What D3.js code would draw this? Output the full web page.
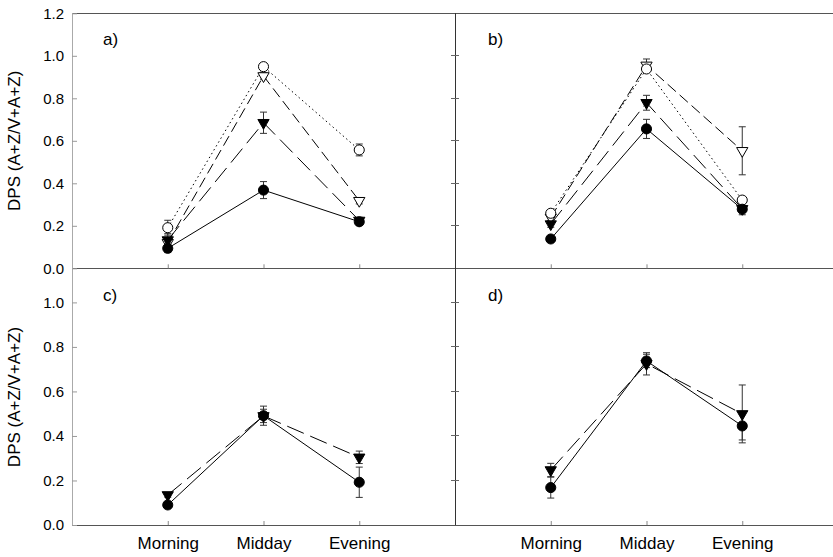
<!DOCTYPE html>
<html>
<head>
<meta charset="utf-8">
<script src="https://cdn.jsdelivr.net/npm/d3@7"></script>
<style>
  body { margin: 0; background: #fff; }
  svg text { font-family: Arial, "Liberation Sans", sans-serif; fill: #000; }
</style>
</head>
<body>
<svg id="chart" width="833" height="557"></svg>
<script>
// categories and ticks
var periods = ["Morning", "Midday", "Evening"];
var yTicksTop = [0, 0.2, 0.4, 0.6, 0.8, 1.0, 1.2];
var yTicksBottom = [0, 0.2, 0.4, 0.6, 0.8, 1.0];
var yTitle = "DPS (A+Z/V+A+Z)";

// panel a
var aFilledCircle = [0.094, 0.368, 0.219];
var aFilledCircleErr = [0.02, 0.04, 0.015];
var aFilledTri = [0.133, 0.685, 0.225];
var aFilledTriErr = [0.03, 0.05, 0.015];
var aOpenTri = [0.12, 0.905, 0.318];
var aOpenTriErr = [0.02, 0.015, 0.015];
var aOpenCircle = [0.191, 0.949, 0.557];
var aOpenCircleErr = [0.035, 0.01, 0.028];

// panel b
var bFilledCircle = [0.138, 0.656, 0.278];
var bFilledCircleErr = [0.01, 0.045, 0.026];
var bFilledTri = [0.208, 0.779, 0.28];
var bFilledTriErr = [0.015, 0.035, 0.015];
var bOpenTri = [0.24, 0.955, 0.553];
var bOpenTriErr = [0.015, 0.03, 0.113];
var bOpenCircle = [0.259, 0.938, 0.321];
var bOpenCircleErr = [0.01, 0.015, 0.015];

// panel c
var cFilledCircle = [0.09, 0.491, 0.192];
var cFilledCircleErr = [0.01, 0.043, 0.068];
var cFilledTri = [0.135, 0.49, 0.304];
var cFilledTriErr = [0.01, 0.03, 0.028];

// panel d
var dFilledCircle = [0.168, 0.737, 0.445];
var dFilledCircleErr = [0.047, 0.03, 0.063];
var dFilledTri = [0.247, 0.724, 0.499];
var dFilledTriErr = [0.03, 0.05, 0.13];

var svg = d3.select("#chart");

var styles = {
	filledCircle: { dash: null, shape: "circle", fill: "#000" },
	filledTri: { dash: "18,7", shape: "tri", fill: "#000" },
	openTri: { dash: "11,5", shape: "tri", fill: "#fff" },
	openCircle: { dash: "1.5,3", shape: "circle", fill: "#fff" }
};

var leftX = d3.scaleLinear().domain([0, 4]).range([72, 455]);
var rightX = d3.scaleLinear().domain([0, 4]).range([455, 838]);
var topY = d3.scaleLinear().domain([0, 1.2]).range([268.3, 13.3]);
var bottomY = d3.scaleLinear().domain([0, 1.15]).range([525, 269]);

var panels = [
	{ label: "a)", x: leftX, y: topY, series: [
		["openCircle", aOpenCircle, aOpenCircleErr],
		["openTri", aOpenTri, aOpenTriErr],
		["filledTri", aFilledTri, aFilledTriErr],
		["filledCircle", aFilledCircle, aFilledCircleErr]] },
	{ label: "b)", x: rightX, y: topY, series: [
		["openTri", bOpenTri, bOpenTriErr],
		["openCircle", bOpenCircle, bOpenCircleErr],
		["filledTri", bFilledTri, bFilledTriErr],
		["filledCircle", bFilledCircle, bFilledCircleErr]] },
	{ label: "c)", x: leftX, y: bottomY, series: [
		["filledTri", cFilledTri, cFilledTriErr],
		["filledCircle", cFilledCircle, cFilledCircleErr]] },
	{ label: "d)", x: rightX, y: bottomY, series: [
		["filledTri", dFilledTri, dFilledTriErr],
		["filledCircle", dFilledCircle, dFilledCircleErr]] }
];

// frame lines
var frame = svg.append("g").attr("stroke", "#555").attr("stroke-width", 1).attr("shape-rendering", "crispEdges");
frame.append("line").attr("x1", 72).attr("x2", 833).attr("y1", topY(1.2)).attr("y2", topY(1.2));
frame.append("line").attr("x1", 72).attr("x2", 833).attr("y1", topY(0)).attr("y2", topY(0));
frame.append("line").attr("x1", 72).attr("x2", 833).attr("y1", bottomY(0)).attr("y2", bottomY(0));
frame.append("line").attr("x1", 455).attr("x2", 455).attr("y1", topY(1.2)).attr("y2", bottomY(0)).attr("stroke", "#333");
svg.append("line").attr("x1", 72).attr("x2", 72).attr("y1", topY(1.2)).attr("y2", bottomY(0))
	.attr("stroke", "#aaa").attr("shape-rendering", "crispEdges");

// y axes on the left
var drawYAxis = function(scale, ticks) {
	var g = svg.append("g").attr("transform", "translate(72,0)")
		.call(d3.axisLeft(scale).tickValues(ticks).tickSize(-5).tickPadding(8)
			.tickFormat(d3.format(".1f")));
	g.select(".domain").remove();
	g.selectAll(".tick line").attr("stroke", "#999");
	g.selectAll("text").style("font-size", "15px");
};
drawYAxis(topY, yTicksTop);
drawYAxis(bottomY, yTicksBottom);

// ticks on the divider
[[topY, yTicksTop.slice(1, 6)], [bottomY, yTicksBottom.slice(1)]].forEach(function(p) {
	svg.append("g").selectAll("line").data(p[1]).join("line")
		.attr("x1", 451).attr("x2", 459)
		.attr("y1", function(d) { return p[0](d); })
		.attr("y2", function(d) { return p[0](d); })
		.attr("stroke", "#666").attr("shape-rendering", "crispEdges");
});

// y titles
[[14, (topY(0) + topY(1.2)) / 2], [14, (bottomY(0) + 269) / 2]].forEach(function(p) {
	svg.append("text")
		.attr("transform", "translate(" + (p[0] + 6) + "," + p[1] + ") rotate(-90)")
		.attr("text-anchor", "middle")
		.style("font-size", "17px")
		.text(yTitle);
});

panels.forEach(function(panel, i) {
	var x = panel.x, y = panel.y;
	var baseY = y(0);
	var bottomRow = i >= 2;

	// x ticks
	var xa = svg.append("g").attr("transform", "translate(0," + baseY + ")")
		.call(d3.axisBottom(x).tickValues([1, 2, 3]).tickSize(-4).tickPadding(12)
			.tickFormat(function(d) { return bottomRow ? periods[d - 1] : ""; }));
	xa.select(".domain").remove();
	xa.selectAll(".tick line").attr("stroke", "#888");
	xa.selectAll("text").style("font-size", "17px");

	// panel label
	svg.append("text")
		.attr("x", x(0) + (i % 2 ? 33 : 31))
		.attr("y", y.range()[1] + 32)
		.style("font-size", "17px")
		.text(panel.label);

	var g = svg.append("g");
	var line = d3.line().x(function(d, j) { return x(j + 1); }).y(function(d) { return y(d); });

	panel.series.forEach(function(s) {
		var st = styles[s[0]];
		g.append("path").datum(s[1])
			.attr("d", line)
			.attr("fill", "none")
			.attr("stroke", "#000")
			.attr("stroke-width", 1)
			.attr("stroke-dasharray", st.dash);
	});

	panel.series.forEach(function(s) {
		var vals = s[1], errs = s[2];
		var eb = g.append("g").attr("stroke", "#333").attr("stroke-width", 1);
		vals.forEach(function(v, j) {
			var cx = x(j + 1);
			var y1 = y(v + errs[j]), y2 = y(v - errs[j]);
			eb.append("line").attr("x1", cx).attr("x2", cx).attr("y1", y1).attr("y2", y2);
			eb.append("line").attr("x1", cx - 3.5).attr("x2", cx + 3.5).attr("y1", y1).attr("y2", y1);
			eb.append("line").attr("x1", cx - 3.5).attr("x2", cx + 3.5).attr("y1", y2).attr("y2", y2);
		});
	});

	panel.series.forEach(function(s) {
		var st = styles[s[0]];
		var sym = st.shape === "circle" ? d3.symbol(d3.symbolCircle, 80) : d3.symbol(d3.symbolTriangle, 55);
		g.append("g").selectAll("path").data(s[1]).join("path")
			.attr("d", sym)
			.attr("transform", function(d, j) {
				return "translate(" + x(j + 1) + "," + y(d) + ")" + (st.shape === "tri" ? " rotate(180)" : "");
			})
			.attr("fill", st.fill)
			.attr("stroke", "#000")
			.attr("stroke-width", 1);
	});
});
</script>
</body>
</html>
